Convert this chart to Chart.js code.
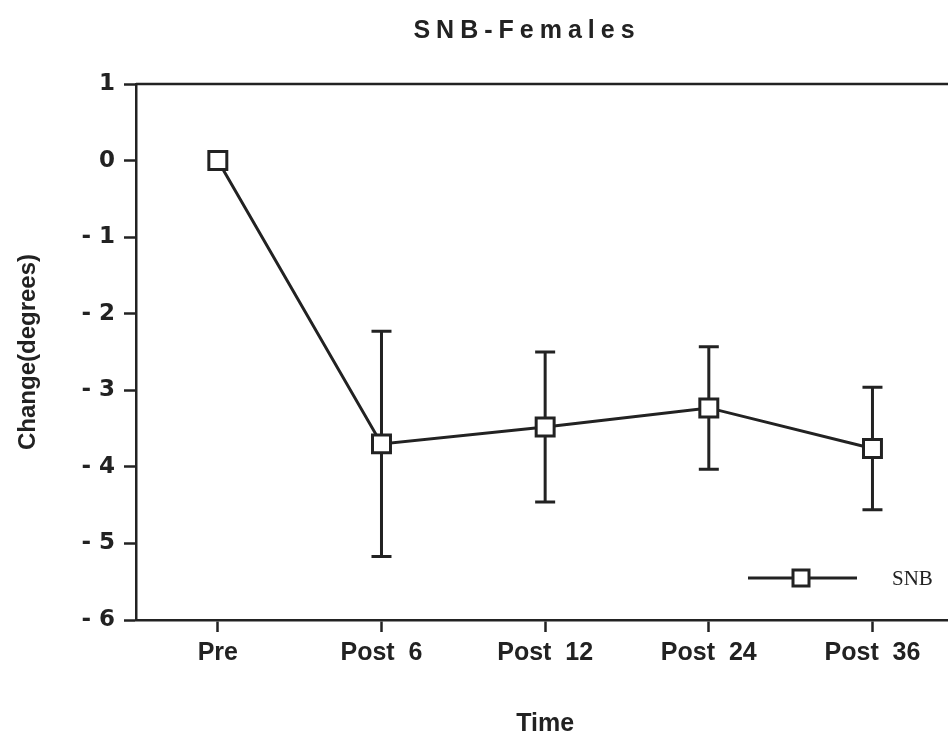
<!DOCTYPE html>
<html>
<head>
<meta charset="utf-8">
<title>SNB-Females</title>
<script src="https://cdn.jsdelivr.net/npm/chart.js@4.4.1/dist/chart.umd.min.js"></script>
<style>
  html, body { margin: 0; padding: 0; background: #fff; overflow: hidden; }
  #wrap { width: 970px; height: 741px; }
</style>
</head>
<body>
<div id="wrap"><canvas id="snbChart" width="970" height="741"></canvas></div>
<script>
// time points and SNB change (mean, sd) in degrees
const timeLabels = ['Pre', 'Post  6', 'Post  12', 'Post  24', 'Post  36'];
const snbMean = [0, -3.70, -3.48, -3.23, -3.76];
const snbSd = [0, 1.47, 0.98, 0.80, 0.80];
const yTicks = [1, 0, -1, -2, -3, -4, -5, -6];

const ink = '#222';
const sansFont = "'Liberation Sans', Arial, sans-serif";
const heavyFont = "'DejaVu Sans', 'Liberation Sans', sans-serif";

// vertical error bars with caps, drawn under the line and markers
const errorBars = {
    id: 'errorBars',
    beforeDatasetsDraw(chart) {
        const ctx = chart.ctx;
        const xs = chart.scales.x, ys = chart.scales.y;
        ctx.save();
        ctx.strokeStyle = ink;
        ctx.lineWidth = 3;
        snbMean.forEach((m, i) => {
            if (!snbSd[i]) return;
            const x = xs.getPixelForValue(i);
            const yTop = ys.getPixelForValue(m + snbSd[i]);
            const yBot = ys.getPixelForValue(m - snbSd[i]);
            ctx.beginPath();
            ctx.moveTo(x, yTop); ctx.lineTo(x, yBot);
            ctx.moveTo(x - 10, yTop); ctx.lineTo(x + 10, yTop);
            ctx.moveTo(x - 10, yBot); ctx.lineTo(x + 10, yBot);
            ctx.stroke();
        });
        // top frame line
        const a = chart.chartArea;
        ctx.lineWidth = 2.5;
        ctx.beginPath();
        ctx.moveTo(a.left, a.top); ctx.lineTo(a.right, a.top);
        ctx.stroke();
        ctx.restore();
    }
};

// title and the small legend inside the plot
const decorations = {
    id: 'decorations',
    afterDraw(chart) {
        const ctx = chart.ctx;
        const a = chart.chartArea;
        ctx.save();
        ctx.fillStyle = ink;
        ctx.font = 'bold 25px ' + sansFont;
        ctx.letterSpacing = '6px';
        ctx.textAlign = 'center';
        ctx.textBaseline = 'middle';
        ctx.fillText('SNB-Females', 527, 31);

        const ds = chart.data.datasets[0];
        const ly = a.bottom - 42;
        ctx.letterSpacing = '0px';
        ctx.strokeStyle = ink;
        ctx.lineWidth = 3;
        ctx.beginPath();
        ctx.moveTo(748, ly); ctx.lineTo(857, ly);
        ctx.stroke();
        ctx.fillStyle = '#fff';
        ctx.fillRect(793, ly - 8, 16, 16);
        ctx.strokeRect(793, ly - 8, 16, 16);
        ctx.fillStyle = ink;
        ctx.font = "21px 'Liberation Serif', 'Times New Roman', serif";
        ctx.textAlign = 'left';
        ctx.fillText(ds.label, 892, ly + 1);
        ctx.restore();
    }
};

new Chart(document.getElementById('snbChart'), {
    type: 'line',
    data: {
        labels: timeLabels,
        datasets: [{
            label: 'SNB',
            data: snbMean,
            borderColor: ink,
            borderWidth: 3,
            tension: 0,
            pointStyle: 'rect',
            pointRadius: 12.7,
            pointHoverRadius: 12.7,
            pointBorderWidth: 3,
            pointBorderColor: ink,
            pointBackgroundColor: '#fff'
        }]
    },
    options: {
        responsive: false,
        animation: false,
        layout: { padding: { top: 84, right: 4, bottom: 0, left: 0 } },
        plugins: {
            legend: { display: false },
            tooltip: { enabled: false },
            title: { display: false }
        },
        scales: {
            x: {
                type: 'category',
                offset: true,
                afterFit(scale) { scale.height = 121; },
                grid: {
                    drawOnChartArea: false,
                    drawTicks: true,
                    tickLength: 12,
                    tickWidth: 2.5,
                    tickColor: ink,
                    offset: false
                },
                border: { display: true, color: ink, width: 2.5 },
                ticks: {
                    color: ink,
                    padding: 6,
                    maxRotation: 0,
                    autoSkip: false,
                    font: { family: sansFont, size: 25, weight: 'bold' }
                },
                title: {
                    display: true,
                    text: 'Time',
                    color: ink,
                    padding: { top: 0, bottom: 2 },
                    font: { family: sansFont, size: 25, weight: 'bold' }
                }
            },
            y: {
                min: -6,
                max: 1,
                afterFit(scale) { scale.width = 136; },
                afterBuildTicks(scale) { scale.ticks = yTicks.map(v => ({ value: v })); },
                grid: {
                    drawOnChartArea: false,
                    tickLength: 12,
                    tickWidth: 2.5,
                    tickColor: ink
                },
                border: { display: true, color: ink, width: 2.5 },
                ticks: {
                    color: ink,
                    padding: 9,
                    font: { family: heavyFont, size: 23, weight: 'bold' },
                    callback: v => (v < 0 ? '- ' + Math.abs(v) : String(v))
                },
                title: {
                    display: true,
                    text: 'Change(degrees)',
                    color: ink,
                    padding: { top: 14, bottom: 0 },
                    font: { family: sansFont, size: 24, weight: 'bold' }
                }
            }
        }
    },
    plugins: [errorBars, decorations]
});
</script>
</body>
</html>
